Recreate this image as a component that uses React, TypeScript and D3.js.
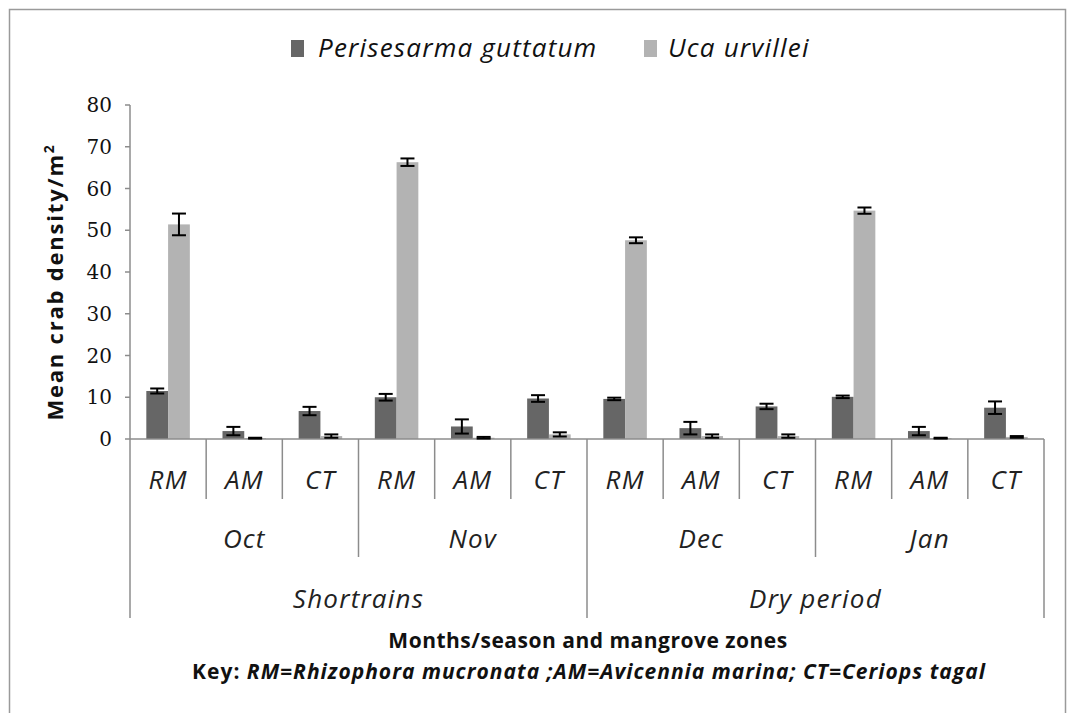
import React from "react";
import * as d3 from "d3";

const zones = ["RM", "AM", "CT", "RM", "AM", "CT", "RM", "AM", "CT", "RM", "AM", "CT"];
const months = ["Oct", "Nov", "Dec", "Jan"];
const seasons = ["Shortrains", "Dry period"];
const seriesNames = ["Perisesarma guttatum", "Uca urvillei"];
const perisesarma = [11.5, 1.9, 6.7, 10.0, 3.0, 9.7, 9.6, 2.6, 7.8, 10.1, 1.9, 7.5];
const perisesarmaErr = [0.6, 1.0, 1.0, 0.8, 1.7, 0.8, 0.3, 1.5, 0.65, 0.3, 1.0, 1.5];
const uca = [51.4, 0.2, 0.7, 66.3, 0.3, 1.1, 47.6, 0.7, 0.7, 54.7, 0.2, 0.5];
const ucaErr = [2.6, 0.1, 0.4, 0.9, 0.2, 0.5, 0.7, 0.4, 0.4, 0.75, 0.1, 0.2];
const yTicks = [0, 10, 20, 30, 40, 50, 60, 70, 80];
const colors = ["#666666", "#b3b3b3"];

export default function App() {
  const W = 1072, H = 713;
  const x0 = 130, x1 = 1044, yTop = 105, yBot = 439;
  const y = d3.scaleLinear().domain([0, 80]).range([yBot, yTop]);
  const idx = d3.range(zones.length);
  const x = d3.scaleBand<number>().domain(idx).range([x0, x1]).padding(0);
  const step = x.step();
  const bw = step / 3.5;
  const series = [
    { vals: perisesarma, errs: perisesarmaErr, color: colors[0], off: -bw },
    { vals: uca, errs: ucaErr, color: colors[1], off: 0 },
  ];
  const axisColor = "#8c8c8c";
  const sans = "'Open Sans', sans-serif";
  const cap = 7;

  const boundaries = d3.range(zones.length + 1).map((i) => {
    const xx = x0 + i * step;
    let bottom = 499;
    if (i % 3 === 0) bottom = 557;
    if (i % 6 === 0) bottom = 618;
    return { xx, bottom };
  });

  const catStyle = { fontFamily: sans, fontStyle: "italic", fontSize: 26, letterSpacing: 1.2, fill: "#222" } as const;

  return (
    <svg width={W} height={H} style={{ position: "absolute", left: 0, top: 0, background: "#fff" }}>
      <rect x={9.5} y={9.5} width={1056} height={740} fill="#fff" stroke="#9a9a9a" strokeWidth={1.5} />
      {/* legend */}
      <g>
        <rect x={291} y={40} width={13} height={17} fill={colors[0]} />
        <text x={318} y={57} fontFamily={sans} fontStyle="italic" fontSize={26} letterSpacing={1.2} fill="#111">{seriesNames[0]}</text>
        <rect x={644} y={40} width={13} height={17} fill={colors[1]} />
        <text x={668} y={57} fontFamily={sans} fontStyle="italic" fontSize={26} letterSpacing={1.2} fill="#111">{seriesNames[1]}</text>
      </g>
      {/* y axis */}
      <line x1={x0} x2={x0} y1={yTop} y2={yBot} stroke={axisColor} strokeWidth={1.5} />
      {yTicks.map((t) => (
        <g key={t}>
          <line x1={x0 - 5} x2={x0} y1={y(t)} y2={y(t)} stroke={axisColor} strokeWidth={1.5} />
          <text x={112} y={y(t) + 7} textAnchor="end" fontFamily="'DejaVu Serif', serif" fontSize={20} fill="#111">{t}</text>
        </g>
      ))}
      <text transform={`translate(63,${(yTop + yBot) / 2 + 10}) rotate(-90)`} textAnchor="middle" fontFamily={sans} fontWeight="bold" fontSize={22} letterSpacing={1.8} fill="#111">
        Mean crab density/m<tspan dy={-9} fontSize={14}>2</tspan>
      </text>
      {/* bars */}
      {series.map((s, si) => (
        <g key={si}>
          {idx.map((i) => {
            const cx = (x(i) as number) + step / 2 + s.off;
            return (
              <rect key={i} x={cx} y={y(s.vals[i])} width={bw} height={yBot - y(s.vals[i])} fill={s.color} />
            );
          })}
        </g>
      ))}
      {/* x axis line */}
      <line x1={x0} x2={x1} y1={yBot} y2={yBot} stroke={axisColor} strokeWidth={1.5} />
      {/* error bars */}
      {series.map((s, si) => (
        <g key={"e" + si}>
          {idx.map((i) => {
            const cx = (x(i) as number) + step / 2 + s.off + bw / 2;
            const lo = y(Math.max(0, s.vals[i] - s.errs[i]));
            const hi = y(s.vals[i] + s.errs[i]);
            return (
              <g key={i} stroke="#000" strokeWidth={2}>
                <line x1={cx} x2={cx} y1={lo} y2={hi} />
                <line x1={cx - cap} x2={cx + cap} y1={hi} y2={hi} />
                <line x1={cx - cap} x2={cx + cap} y1={lo} y2={lo} />
              </g>
            );
          })}
        </g>
      ))}
      {/* multi-level category separators */}
      {boundaries.map((b, i) => (
        <line key={i} x1={b.xx} x2={b.xx} y1={yBot} y2={b.bottom} stroke={axisColor} strokeWidth={1.5} />
      ))}
      {idx.map((i) => (
        <text key={i} x={(x(i) as number) + step / 2} y={489} textAnchor="middle" {...catStyle}>{zones[i]}</text>
      ))}
      {months.map((m, i) => (
        <text key={m} x={x0 + (i * 3 + 1.5) * step} y={548} textAnchor="middle" {...catStyle}>{m}</text>
      ))}
      {seasons.map((s, i) => (
        <text key={s} x={x0 + (i * 6 + 3) * step} y={608} textAnchor="middle" {...catStyle}>{s}</text>
      ))}
      {/* x titles */}
      <text x={588} y={648} textAnchor="middle" fontFamily={sans} fontWeight="bold" fontSize={21} letterSpacing={0.5} fill="#111">Months/season and mangrove zones</text>
      <text x={589} y={679} textAnchor="middle" fontFamily={sans} fontWeight="bold" fontSize={21} letterSpacing={1} fill="#111">
        Key: <tspan fontStyle="italic">RM=Rhizophora mucronata ;AM=Avicennia marina; CT=Ceriops tagal</tspan>
      </text>
    </svg>
  );
}
